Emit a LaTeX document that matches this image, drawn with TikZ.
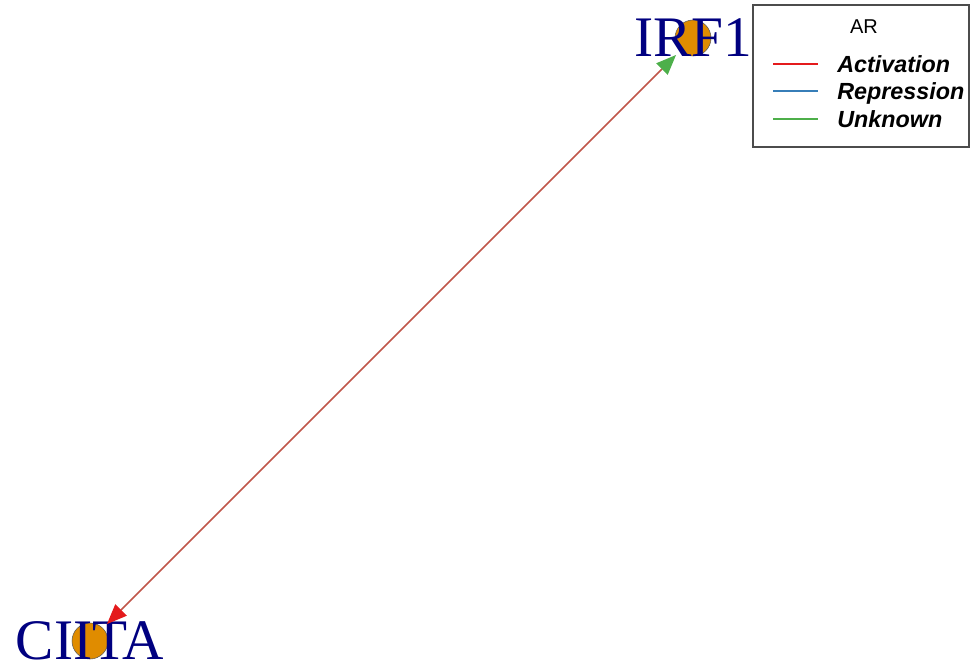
\documentclass[tikz,border=0pt]{standalone}
\usepackage{fontspec}
\setmainfont{Liberation Serif}
\newfontfamily\legendfont{Liberation Sans}
\usetikzlibrary{arrows.meta}
\definecolor{genefill}{HTML}{E08C00}
\definecolor{genetext}{HTML}{000080}
\definecolor{edgecol}{HTML}{C0564A}
\definecolor{actred}{HTML}{E41A1C}
\definecolor{repblue}{HTML}{377EB8}
\definecolor{unkgreen}{HTML}{4DAF4A}
\begin{document}
\begin{tikzpicture}[x=0.75pt, y=-0.75pt,
	gene/.style={circle, draw=black!65, fill=genefill, minimum size=27pt,
				 inner sep=0pt, outer sep=4.5pt},
	genelabel/.style={text=genetext, inner sep=0pt,
					  font=\fontsize{43}{43}\selectfont},
	legendtext/.style={anchor=base west, inner sep=0pt,
					   font=\legendfont\bfseries\itshape\fontsize{17.5}{18}\selectfont},
	legendline/.style={line width=2.2pt}]
	\useasboundingbox (0, 0) rectangle (970, 669);

	% genes
	\node[gene] (irf1) at (693, 38) {};
	\node[gene] (ciita) at (90, 641) {};
	\node[genelabel] (irf1lab) at (irf1) {IRF1};
	\node[genelabel] (ciitalab) at (ciita) {CIITA};

	% regulation
	\draw[edgecol, line width=1.1pt,
		  {Triangle[color=actred, length=15pt, width=12pt]}-{Triangle[color=unkgreen, length=15pt, width=12pt]}]
		(ciita) -- (irf1);

	% legend
	\draw[black!70, line width=0.8pt] (753, 5) rectangle (969, 147);
	\node[font=\legendfont\fontsize{15}{16}\selectfont] (artitle) at (864, 27) {AR};
	\draw[legendline, actred] (773, 64) -- (818, 64);
	\node[legendtext] (act) at (837, 72) {Activation};
	\draw[legendline, repblue] (773, 91) -- (818, 91);
	\node[legendtext] (rep) at (837, 99) {Repression};
	\draw[legendline, unkgreen] (773, 119) -- (818, 119);
	\node[legendtext] (unk) at (837, 127) {Unknown};
\end{tikzpicture}
\end{document}
